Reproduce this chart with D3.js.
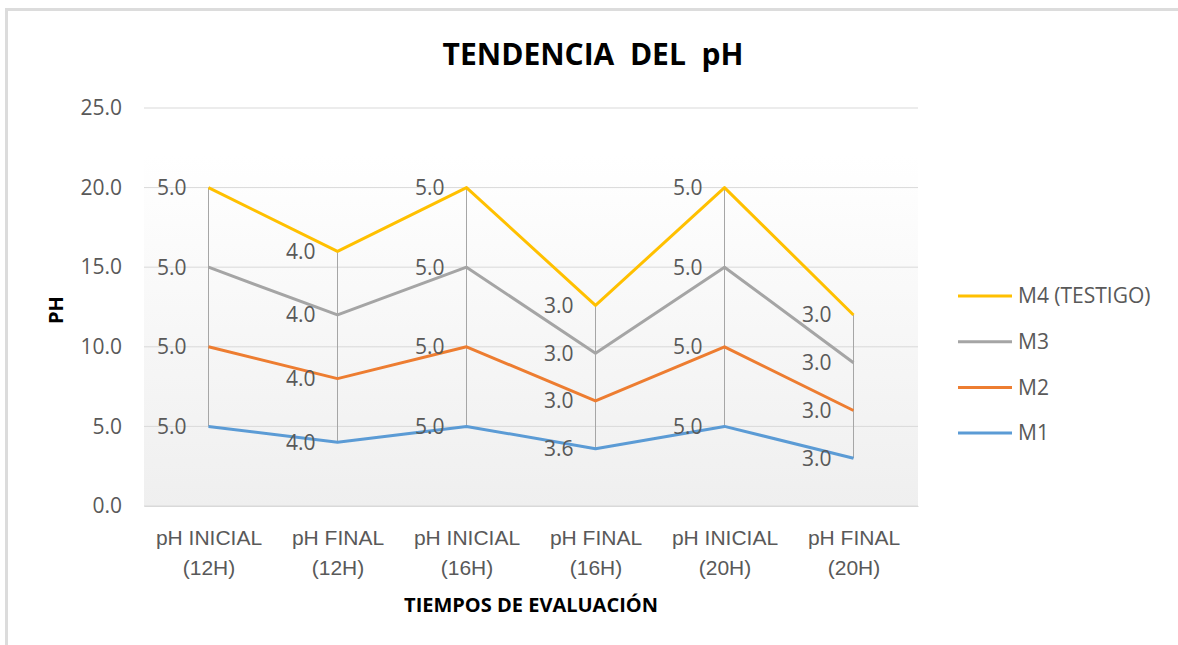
<!DOCTYPE html>
<html>
<head>
<meta charset="utf-8">
<script src="https://cdn.jsdelivr.net/npm/d3@7"></script>
<style>
  body { margin: 0; background: #fff; }
  svg { display: block; font-family: "Open Sans", sans-serif; }
</style>
</head>
<body>
<div id="chart"></div>
<script>
// Chart data
const categories = ["pH INICIAL (12H)", "pH FINAL (12H)", "pH INICIAL (16H)", "pH FINAL (16H)", "pH INICIAL (20H)", "pH FINAL (20H)"];
const categoryLines = [["pH INICIAL", "(12H)"], ["pH FINAL", "(12H)"], ["pH INICIAL", "(16H)"], ["pH FINAL", "(16H)"], ["pH INICIAL", "(20H)"], ["pH FINAL", "(20H)"]];
const seriesNames = ["M1", "M2", "M3", "M4 (TESTIGO)"];
const m1 = [5.0, 4.0, 5.0, 3.6, 5.0, 3.0];
const m2 = [5.0, 4.0, 5.0, 3.0, 5.0, 3.0];
const m3 = [5.0, 4.0, 5.0, 3.0, 5.0, 3.0];
const m4 = [5.0, 4.0, 5.0, 3.0, 5.0, 3.0];
const yTicks = [0, 5, 10, 15, 20, 25];
const colors = ["#5b9bd5", "#ed7d31", "#a5a5a5", "#ffc000"];

const width = 1178, height = 645;
const margin = {top: 108, right: 260, bottom: 139, left: 144};
const innerW = width - margin.left - margin.right;
const innerH = height - margin.top - margin.bottom;
const labelSize = "21px";

const svg = d3.select("#chart").append("svg")
    .attr("width", width)
    .attr("height", height);

// Outer frame (top and left edges visible)
svg.append("rect").attr("x", 5).attr("y", 8).attr("width", width).attr("height", 3).attr("fill", "#dcdcdc");
svg.append("rect").attr("x", 5).attr("y", 8).attr("width", 3).attr("height", height).attr("fill", "#dcdcdc");

const g = svg.append("g").attr("transform", `translate(${margin.left},${margin.top})`);

// Stack the series (stacked line)
const rows = categories.map((c, i) => ({cat: c, M1: m1[i], M2: m2[i], M3: m3[i], "M4 (TESTIGO)": m4[i]}));
const stacked = d3.stack().keys(seriesNames)(rows);

const x = d3.scalePoint().domain(categories).range([0, innerW]).padding(0.5);
const y = d3.scaleLinear().domain([0, 25]).range([innerH, 0]);

// Plot area gradient
const defs = svg.append("defs");
const grad = defs.append("linearGradient").attr("id", "plotGrad").attr("x1", 0).attr("y1", 0).attr("x2", 0).attr("y2", 1);
grad.append("stop").attr("offset", "0%").attr("stop-color", "#ffffff");
grad.append("stop").attr("offset", "100%").attr("stop-color", "#efefef");
g.append("rect")
    .attr("x", 0)
    .attr("y", y(22))
    .attr("width", innerW)
    .attr("height", innerH - y(22))
    .attr("fill", "url(#plotGrad)");

// Gridlines
g.selectAll(".grid")
    .data(yTicks)
    .enter().append("line")
    .attr("x1", 0).attr("x2", innerW)
    .attr("y1", d => y(d)).attr("y2", d => y(d))
    .attr("stroke", "#d9d9d9")
    .attr("stroke-width", 1);

// Y axis labels
const yAxis = g.append("g")
    .call(d3.axisLeft(y).tickValues(yTicks).tickFormat(d3.format(".1f")).tickSize(0).tickPadding(22));
yAxis.select(".domain").remove();
yAxis.selectAll("text")
    .attr("fill", "#595959")
    .style("font-size", labelSize)
    .style("font-family", "'Open Sans', sans-serif");

// X axis labels
const xAxis = g.append("g")
    .attr("transform", `translate(0,${innerH})`)
    .call(d3.axisBottom(x).tickSize(0).tickFormat(""));
xAxis.select(".domain").attr("stroke", "#d9d9d9");
xAxis.selectAll(".tick").each(function(d, i) {
    const t = d3.select(this).append("text")
        .attr("fill", "#595959")
        .attr("text-anchor", "middle")
        .style("font-size", labelSize);
    categoryLines[i].forEach((line, j) => {
        t.append("tspan").attr("x", 0).attr("y", 39 + j * 30).text(line);
    });
});

// High-low lines
const topSeries = stacked[stacked.length - 1];
const bottomSeries = stacked[0];
g.selectAll(".hilo")
    .data(categories)
    .enter().append("line")
    .attr("x1", d => x(d)).attr("x2", d => x(d))
    .attr("y1", (d, i) => y(topSeries[i][1]))
    .attr("y2", (d, i) => y(bottomSeries[i][1]))
    .attr("stroke", "#a6a6a6")
    .attr("stroke-width", 1);

// Series lines
const line = d3.line()
    .x(d => x(d.data.cat))
    .y(d => y(d[1]));

g.selectAll(".series")
    .data(stacked)
    .enter().append("path")
    .attr("d", line)
    .attr("fill", "none")
    .attr("stroke", (d, i) => colors[i])
    .attr("stroke-width", 3)
    .attr("stroke-linejoin", "round");

// Data labels (left of points)
stacked.forEach(s => {
    g.selectAll(null)
        .data(s)
        .enter().append("text")
        .attr("x", d => x(d.data.cat) - 22)
        .attr("y", d => y(d[1]))
        .attr("dy", "0.35em")
        .attr("text-anchor", "end")
        .attr("fill", "#595959")
        .style("font-size", labelSize)
        .text(d => d3.format(".1f")(d[1] - d[0]));
});

// Title
svg.append("text")
    .attr("x", 593)
    .attr("y", 65)
    .attr("text-anchor", "middle")
    .attr("fill", "#000")
    .style("font-size", "30px")
    .style("font-weight", "bold")
    .style("white-space", "pre")
    .text("TENDENCIA  DEL  pH");

// Axis titles
svg.append("text")
    .attr("x", margin.left + innerW / 2)
    .attr("y", 612)
    .attr("text-anchor", "middle")
    .attr("fill", "#000")
    .style("font-size", "20px")
    .style("font-weight", "bold")
    .text("TIEMPOS DE EVALUACIÓN");

svg.append("text")
    .attr("transform", "translate(63,310) rotate(-90)")
    .attr("text-anchor", "middle")
    .attr("fill", "#000")
    .style("font-size", "20px")
    .style("font-weight", "bold")
    .text("PH");

// Legend
const legendOrder = [3, 2, 1, 0];
const legend = svg.selectAll(".legend")
    .data(legendOrder)
    .enter().append("g")
    .attr("transform", (d, i) => `translate(958,${296 + i * 45.7})`);

legend.append("line")
    .attr("x1", 0).attr("x2", 54)
    .attr("y1", 0).attr("y2", 0)
    .attr("stroke", d => colors[d])
    .attr("stroke-width", 3);

legend.append("text")
    .attr("x", 60)
    .attr("y", 0)
    .attr("dy", "0.35em")
    .attr("fill", "#595959")
    .style("font-size", labelSize)
    .text(d => seriesNames[d]);
</script>
</body>
</html>
